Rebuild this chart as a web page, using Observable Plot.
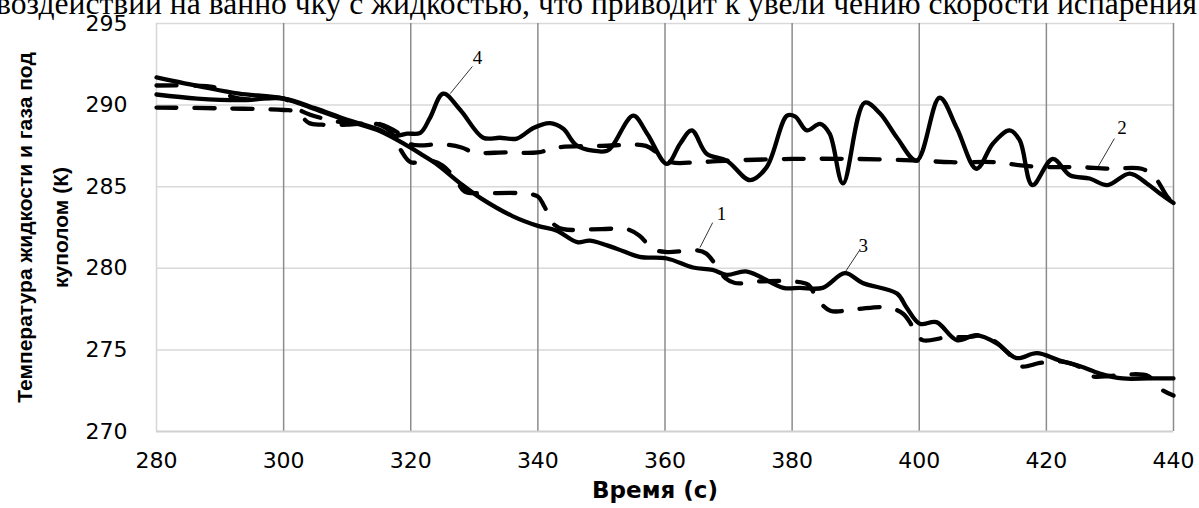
<!DOCTYPE html>
<html><head><meta charset="utf-8">
<script src="https://cdn.jsdelivr.net/npm/d3@7"></script>
<script src="https://cdn.jsdelivr.net/npm/@observablehq/plot@0.6"></script>
<style>
body{margin:0;background:#fff;overflow:hidden;width:1199px;height:508px;position:relative}
#top{position:absolute;left:-4px;top:-12px;font-family:"Liberation Serif","Times New Roman",serif;font-size:31.6px;white-space:nowrap;color:#000;line-height:1}
#chart{position:absolute;left:0;top:0}
</style></head><body>
<div id="top">воздействии на ванно чку с жидкостью, что приводит к увели чению скорости испарения</div>
<div id="chart"></div>
<script>
const xTicks = [280, 300, 320, 340, 360, 380, 400, 420, 440];
const yTicks = [270, 275, 280, 285, 290, 295];
const xLabel = "Время (с)";
const yLabel = "Температура жидкости и газа под\nкуполом (К)";

// Series 1 (dashed, descending)
const s1T = [280,285,289,292,295,300,303,306,310,315,317,318.5,320,323,325,327,328.5,331,337,340,341,342.5,344,350,354,356,358,360,365,366.5,368,369.5,371,375,380,382.5,384,386,390,395,397.5,399,400.5,404,408,410,412,414,416,419,422,425,427,430,433,436,438,440];
const s1V = [291.2,291.2,291.1,290.5,290.35,290.4,289.6,289.2,288.9,288.8,288.3,287.2,286.5,286.6,286.3,285.5,284.7,284.6,284.6,284.4,283.8,282.7,282.4,282.4,282.4,282.0,281.2,281.0,281.1,280.9,280.2,279.4,279.1,279.2,279.2,279.0,278.1,277.4,277.5,277.6,277.2,276.4,275.6,275.75,275.8,275.9,275.5,274.8,274.0,274.2,274.3,274.0,273.4,273.4,273.5,273.4,272.6,272.2];

// Series 2 (dashed, nearly flat)
const s2T = [280,290,300,302,304,306,310,315,318,320,325,328,330,335,340,343,350,357,359,361,365,370,380,390,400,405,412,416,420,425,430,435,437,439,440];
const s2V = [289.85,289.8,289.7,289.6,288.9,288.8,288.8,288.85,288.3,287.6,287.6,287.4,287.1,287.1,287.1,287.4,287.5,287.5,287.0,286.5,286.5,286.6,286.7,286.7,286.6,286.5,286.5,286.3,286.2,286.2,286.1,286.1,285.6,284.4,284.0];

// Series 3 (solid, descending)
const s3T = [280,287.4,293,300,305.3,310,315.2,319.5,322,324,327.8,331,336,340,343,346.2,348.2,352.4,356,360.3,364.4,367.5,369.7,372.9,378.6,381.2,384.8,388.3,391.1,396.5,398,400.1,402.7,405.9,409,412.2,415.3,418.5,422.1,425.3,428.4,432,436.2,440];
const s3V = [291.7,291.1,290.7,290.4,289.7,289.05,288.4,287.5,286.9,286.4,285.2,284.3,283.2,282.6,282.3,281.6,281.7,281.2,280.7,280.6,280.05,279.9,279.6,279.8,278.8,278.8,278.8,279.7,279.1,278.45,277.6,276.6,276.7,275.6,275.9,275.4,274.5,274.8,274.35,274.0,273.55,273.25,273.25,273.25];

// Series 4 (solid, oscillating)
const s4T = [280,286.4,293.2,300,305,310,315,317.2,319.4,321.5,323,325.1,327.8,331.4,334,336.7,339.3,341.9,344,346.2,350.9,351.9,355,357.2,360.3,362.4,364.2,366.6,369.7,373.4,376,379.2,380.5,382.3,384.4,385.9,388,391.4,393.8,396.5,399.6,403.2,405.9,409,411.6,414.2,415.8,417.8,421,423.7,426.8,429.6,433.1,435.8,437.8,440];
const s4V = [290.65,290.4,290.3,290.4,289.8,289.1,288.5,288.1,288.25,288.3,289.2,290.7,289.7,288.0,288.0,287.95,288.6,288.9,288.55,287.5,287.2,287.6,289.35,288.25,286.4,287.65,288.45,287.0,286.6,285.4,286.2,289.35,289.3,288.45,288.85,288.25,285.2,290.15,289.5,288.0,286.6,290.45,288.6,286.1,287.65,288.45,287.85,285.1,286.7,285.7,285.5,285.1,285.8,285.2,284.6,284.0];

// Curve number labels and their leader lines
const labelText = ["1", "2", "3", "4"];
const labelT = [368.9, 431.9, 391.2, 330.5];
const labelV = [283.35, 288.6, 281.4, 292.9];
const leaderT1 = [367.5, 430.7, 390.6, 329.7];
const leaderV1 = [282.8, 287.95, 281.1, 292.37];
const leaderT2 = [365.5, 428.1, 388.3, 326.2];
const leaderV2 = [281.27, 286.2, 279.74, 290.7];

const rows = (t, v) => t.map((x, i) => ({t: x, v: v[i]}));
const labels = labelText.map((s, i) => ({s, t: labelT[i], v: labelV[i]}));
const leaders = labelText.map((s, i) => ({x1: leaderT1[i], y1: leaderV1[i], x2: leaderT2[i], y2: leaderV2[i]}));

const dash = "20,18";
const chart = Plot.plot({
  width: 1199, height: 508,
  marginLeft: 156, marginRight: 26, marginTop: 23, marginBottom: 77,
  style: {fontFamily: "DejaVu Sans", fontSize: "22px", color: "#000", background: "transparent", overflow: "visible"},
  x: {domain: [280, 440], ticks: xTicks, tickSize: 0, tickPadding: 21, label: null, tickFormat: d => String(d)},
  y: {domain: [270, 295], ticks: yTicks, tickSize: 0, tickPadding: 29, label: null, tickFormat: d => String(d)},
  marks: [
    Plot.ruleY(yTicks.slice(1), {stroke: "#d9d9d9", strokeWidth: 1.5}),
    Plot.ruleX([xTicks[0]], {stroke: "#d6d6d6", strokeWidth: 1.5}),
    Plot.ruleX(xTicks.slice(1), {stroke: "#8c8c8c", strokeWidth: 1.5}),
    Plot.ruleY([yTicks[0]], {stroke: "#d0d0d0", strokeWidth: 2}),
    Plot.line(rows(s2T, s2V), {x: "t", y: "v", curve: "catmull-rom", stroke: "#000", strokeWidth: 4.3, strokeDasharray: dash}),
    Plot.line(rows(s1T, s1V), {x: "t", y: "v", curve: "catmull-rom", stroke: "#000", strokeWidth: 4.3, strokeDasharray: dash}),
    Plot.line(rows(s3T, s3V), {x: "t", y: "v", curve: "catmull-rom", stroke: "#000", strokeWidth: 4.3}),
    Plot.line(rows(s4T, s4V), {x: "t", y: "v", curve: "catmull-rom", stroke: "#000", strokeWidth: 4.3}),
    Plot.link(leaders, {x1: "x1", y1: "y1", x2: "x2", y2: "y2", stroke: "#000", strokeWidth: 0.8}),
    Plot.text(labels, {x: "t", y: "v", text: "s", fontFamily: "Liberation Serif", fontSize: 19, fill: "#000"}),
    Plot.text([yLabel], {frameAnchor: "left", dx: -118, rotate: -90, textAnchor: "middle", lineAnchor: "middle", lineHeight: 1.72, fontFamily: "Liberation Sans", fontWeight: "bold", fontSize: 21, fill: "#000"}),
    Plot.text([xLabel], {frameAnchor: "bottom", dx: -10, dy: 66, textAnchor: "middle", fontFamily: "DejaVu Sans", fontWeight: "bold", fontSize: 23, fill: "#000"})
  ]
});
document.getElementById("chart").appendChild(chart);
</script>
</body></html>
